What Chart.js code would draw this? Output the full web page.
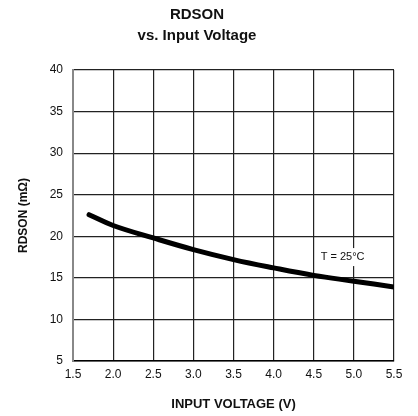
<!DOCTYPE html>
<html>
<head>
<meta charset="utf-8">
<script src="https://cdn.jsdelivr.net/npm/chart.js@4"></script>
<style>
  html, body { margin: 0; padding: 0; background: #fff; }
  #wrap { width: 418px; height: 416px; }
</style>
</head>
<body>
<div id="wrap"><canvas id="rdsonChart" width="418" height="416"></canvas></div>
<script>
const voltage = [1.7, 2.0, 2.5, 3.0, 3.5, 4.0, 4.5, 5.0, 5.5];
const rdson = [22.6, 21.3, 19.8, 18.4, 17.2, 16.2, 15.3, 14.6, 13.9];
const titleLines = ['RDSON', 'vs. Input Voltage'];
const noteText = 'T = 25°C';
const notePos = [4.86, 17.5];

const FONT = '"Liberation Sans", Arial, sans-serif';

// white-boxed label on the plot
const notePlugin = {
  id: 'note',
  afterDatasetsDraw(chart) {
    const ctx = chart.ctx;
    const x = chart.scales.x.getPixelForValue(notePos[0]);
    const y = chart.scales.y.getPixelForValue(notePos[1]);
    ctx.save();
    ctx.font = '11px ' + FONT;
    const w = ctx.measureText(noteText).width;
    ctx.fillStyle = '#fff';
    ctx.fillRect(x - w / 2 - 4, y - 9, w + 8, 18);
    ctx.fillStyle = '#111';
    ctx.textAlign = 'center';
    ctx.textBaseline = 'middle';
    ctx.fillText(noteText, x, y);
    ctx.restore();
  }
};

new Chart(document.getElementById('rdsonChart'), {
  type: 'scatter',
  data: {
    datasets: [{
      data: voltage.map((v, i) => ({ x: v, y: rdson[i] })),
      showLine: true,
      borderColor: '#000',
      borderWidth: 5,
      pointRadius: 0,
      tension: 0.4,
      borderCapStyle: 'round'
    }]
  },
  options: {
    responsive: false,
    animation: false,
    layout: { padding: { right: 24, left: 0, bottom: 0, top: 0 } },
    plugins: {
      legend: { display: false },
      tooltip: { enabled: false },
      title: {
        display: true,
        text: titleLines,
        color: '#111',
        font: { family: FONT, size: 15, weight: 'bold', lineHeight: 1.4 },
        padding: { top: 4, bottom: 24 }
      }
    },
    scales: {
      x: {
        type: 'linear',
        min: 1.5,
        max: 5.5,
        afterFit(scale) { scale.height = 55; },
        ticks: {
          stepSize: 0.5,
          color: '#111',
          padding: 6,
          font: { family: FONT, size: 12 },
          callback: v => v.toFixed(1)
        },
        grid: { color: '#222', lineWidth: 1.2, drawTicks: false },
        border: { color: '#000', width: 1.5 },
        title: {
          display: true,
          text: 'INPUT VOLTAGE (V)',
          color: '#111',
          font: { family: FONT, size: 13, weight: 'bold' },
          padding: { top: 10 }
        }
      },
      y: {
        min: 5,
        max: 40,
        afterFit(scale) { scale.width = 73; },
        ticks: {
          stepSize: 5,
          color: '#111',
          padding: 10,
          font: { family: FONT, size: 12 }
        },
        grid: { color: '#222', lineWidth: 1.2, drawTicks: false },
        border: { color: '#888', width: 2 },
        title: {
          display: true,
          text: 'RDSON (mΩ)',
          color: '#111',
          font: { family: FONT, size: 12, weight: 'bold' },
          padding: { top: 16, bottom: 4 }
        }
      }
    }
  },
  plugins: [notePlugin]
});
</script>
</body>
</html>
